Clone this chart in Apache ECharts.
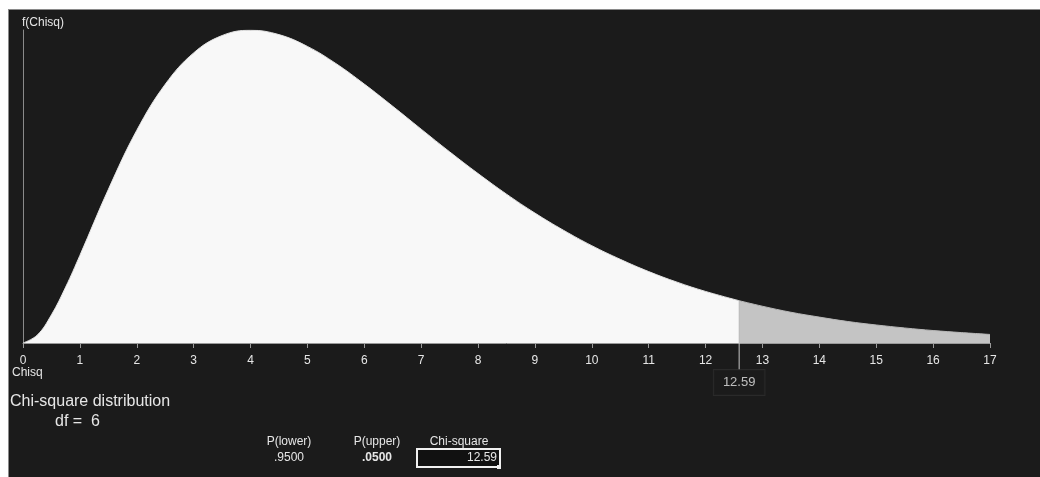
<!DOCTYPE html>
<html>
<head>
<meta charset="utf-8">
<script src="https://cdn.jsdelivr.net/npm/echarts@6/dist/echarts.min.js"></script>
<style>
  html, body { margin: 0; padding: 0; background: #ffffff; width: 1040px; height: 477px; overflow: hidden; }
  #panel { position: absolute; left: 8px; top: 9px; width: 1032px; height: 468px; background: #1b1b1b; border-left: 1px solid #8a8a8a; border-top: 1px solid #8a8a8a; box-sizing: border-box; }
  #chart { position: absolute; left: 0; top: 0; width: 1040px; height: 477px; }
</style>
</head>
<body>
<div id="panel"></div>
<div id="chart"></div>
<script>
// Chi-square values along the x axis (df = 6)
const lowerX = [0, 0.25, 0.5, 0.75, 1, 1.5, 2, 2.5, 3, 3.5, 4, 4.5, 5, 5.5, 6, 6.5, 7, 7.5, 8, 8.5, 9, 9.5, 10, 10.5, 11, 11.5, 12, 12.59];
const lowerY = [0, 0.0034, 0.0122, 0.0242, 0.0379, 0.0664, 0.0920, 0.1119, 0.1255, 0.1330, 0.1353, 0.1334, 0.1283, 0.1209, 0.1120, 0.1024, 0.0925, 0.0827, 0.0733, 0.0644, 0.0562, 0.0488, 0.0421, 0.0362, 0.0309, 0.0263, 0.0223, 0.0183];
const upperX = [12.59, 13, 13.5, 14, 14.5, 15, 15.5, 16, 16.5, 17];
const upperY = [0.0183, 0.0159, 0.0133, 0.0112, 0.0093, 0.0078, 0.0065, 0.0054, 0.0045, 0.0037];
const xTicks = [0, 1, 2, 3, 4, 5, 6, 7, 8, 9, 10, 11, 12, 13, 14, 15, 16, 17];
const critical = 12.59;
const df = 6;
const pLower = '.9500';
const pUpper = '.0500';

const font = '"Liberation Sans", Arial, sans-serif';
const txt = '#e6e6e6';

const chart = echarts.init(document.getElementById('chart'), null, { renderer: 'canvas' });
const option = {
  animation: false,
  backgroundColor: 'transparent',
  grid: { left: 23, right: 50, top: 30, bottom: 134 },
  xAxis: {
    type: 'value', min: 0, max: 17, interval: 1,
    axisLine: { show: true, lineStyle: { color: '#9a9a9a', width: 1 } },
    axisTick: { show: true, length: 5, lineStyle: { color: '#9a9a9a' } },
    axisLabel: { color: txt, fontSize: 12, fontFamily: font, margin: 12,
      formatter: v => xTicks.includes(v) ? String(v) : '' },
    splitLine: { show: false }
  },
  yAxis: {
    type: 'value', min: 0, max: 0.1354,
    axisLine: { show: true, lineStyle: { color: '#8a8a8a', width: 1 } },
    axisTick: { show: false }, axisLabel: { show: false }, splitLine: { show: false }
  },
  series: [
    {
      type: 'line', data: lowerX.map((x, i) => [x, lowerY[i]]), smooth: 0.4, symbol: 'none',
      lineStyle: { color: '#e4e4e4', width: 1 },
      areaStyle: { color: '#f8f8f8', opacity: 1 }, z: 2
    },
    {
      type: 'line', data: upperX.map((x, i) => [x, upperY[i]]), smooth: 0.4, symbol: 'none',
      lineStyle: { color: '#b8b8b8', width: 1 },
      areaStyle: { color: '#c4c4c4', opacity: 1 }, z: 2
    },
    {
      type: 'line', clip: false, symbol: 'none', z: 5,
      data: [[critical, upperY[0]], [critical, -0.0117]],
      lineStyle: { color: '#c8c8c8', width: 1 }
    },
    {
      type: 'scatter', clip: false, symbolSize: 0, z: 6,
      data: [[critical, -0.0117]],
      label: { show: true, position: 'bottom', distance: 0, formatter: critical.toFixed(2),
        color: txt, fontSize: 13, fontFamily: font, backgroundColor: '#1b1b1b',
        borderColor: '#2e2e2e', borderWidth: 1, padding: [6, 9, 6, 9] }
    }
  ],
  graphic: [
    { type: 'text', left: 22, top: 17, style: { text: 'f(Chisq)', fill: txt, font: '12px ' + font } },
    { type: 'text', left: 12, top: 367, style: { text: 'Chisq', fill: txt, font: '12px ' + font } },
    { type: 'text', left: 10, top: 394, style: { text: 'Chi-square distribution', fill: txt, font: '16px ' + font } },
    { type: 'text', left: 55, top: 414, style: { text: 'df =  ' + df, fill: txt, font: '16px ' + font } },
    { type: 'text', x: 289, y: 436, style: { text: 'P(lower)', fill: txt, font: '12px ' + font, textAlign: 'center' } },
    { type: 'text', x: 289, y: 452, style: { text: pLower, fill: txt, font: '12px ' + font, textAlign: 'center' } },
    { type: 'text', x: 377, y: 436, style: { text: 'P(upper)', fill: txt, font: '12px ' + font, textAlign: 'center' } },
    { type: 'text', x: 377, y: 452, style: { text: pUpper, fill: txt, font: 'bold 12px ' + font, textAlign: 'center' } },
    { type: 'text', x: 459, y: 436, style: { text: 'Chi-square', fill: txt, font: '12px ' + font, textAlign: 'center' } },
    { type: 'rect', shape: { x: 417, y: 449, width: 83, height: 18 }, style: { fill: '#111111', stroke: '#f0f0f0', lineWidth: 2 } },
    { type: 'text', x: 497, y: 452, style: { text: critical.toFixed(2), fill: txt, font: '12px ' + font, textAlign: 'right' } },
    { type: 'rect', shape: { x: 497, y: 465, width: 4, height: 4 }, style: { fill: '#f0f0f0' } }
  ]
};
chart.setOption(option);
</script>
</body>
</html>
